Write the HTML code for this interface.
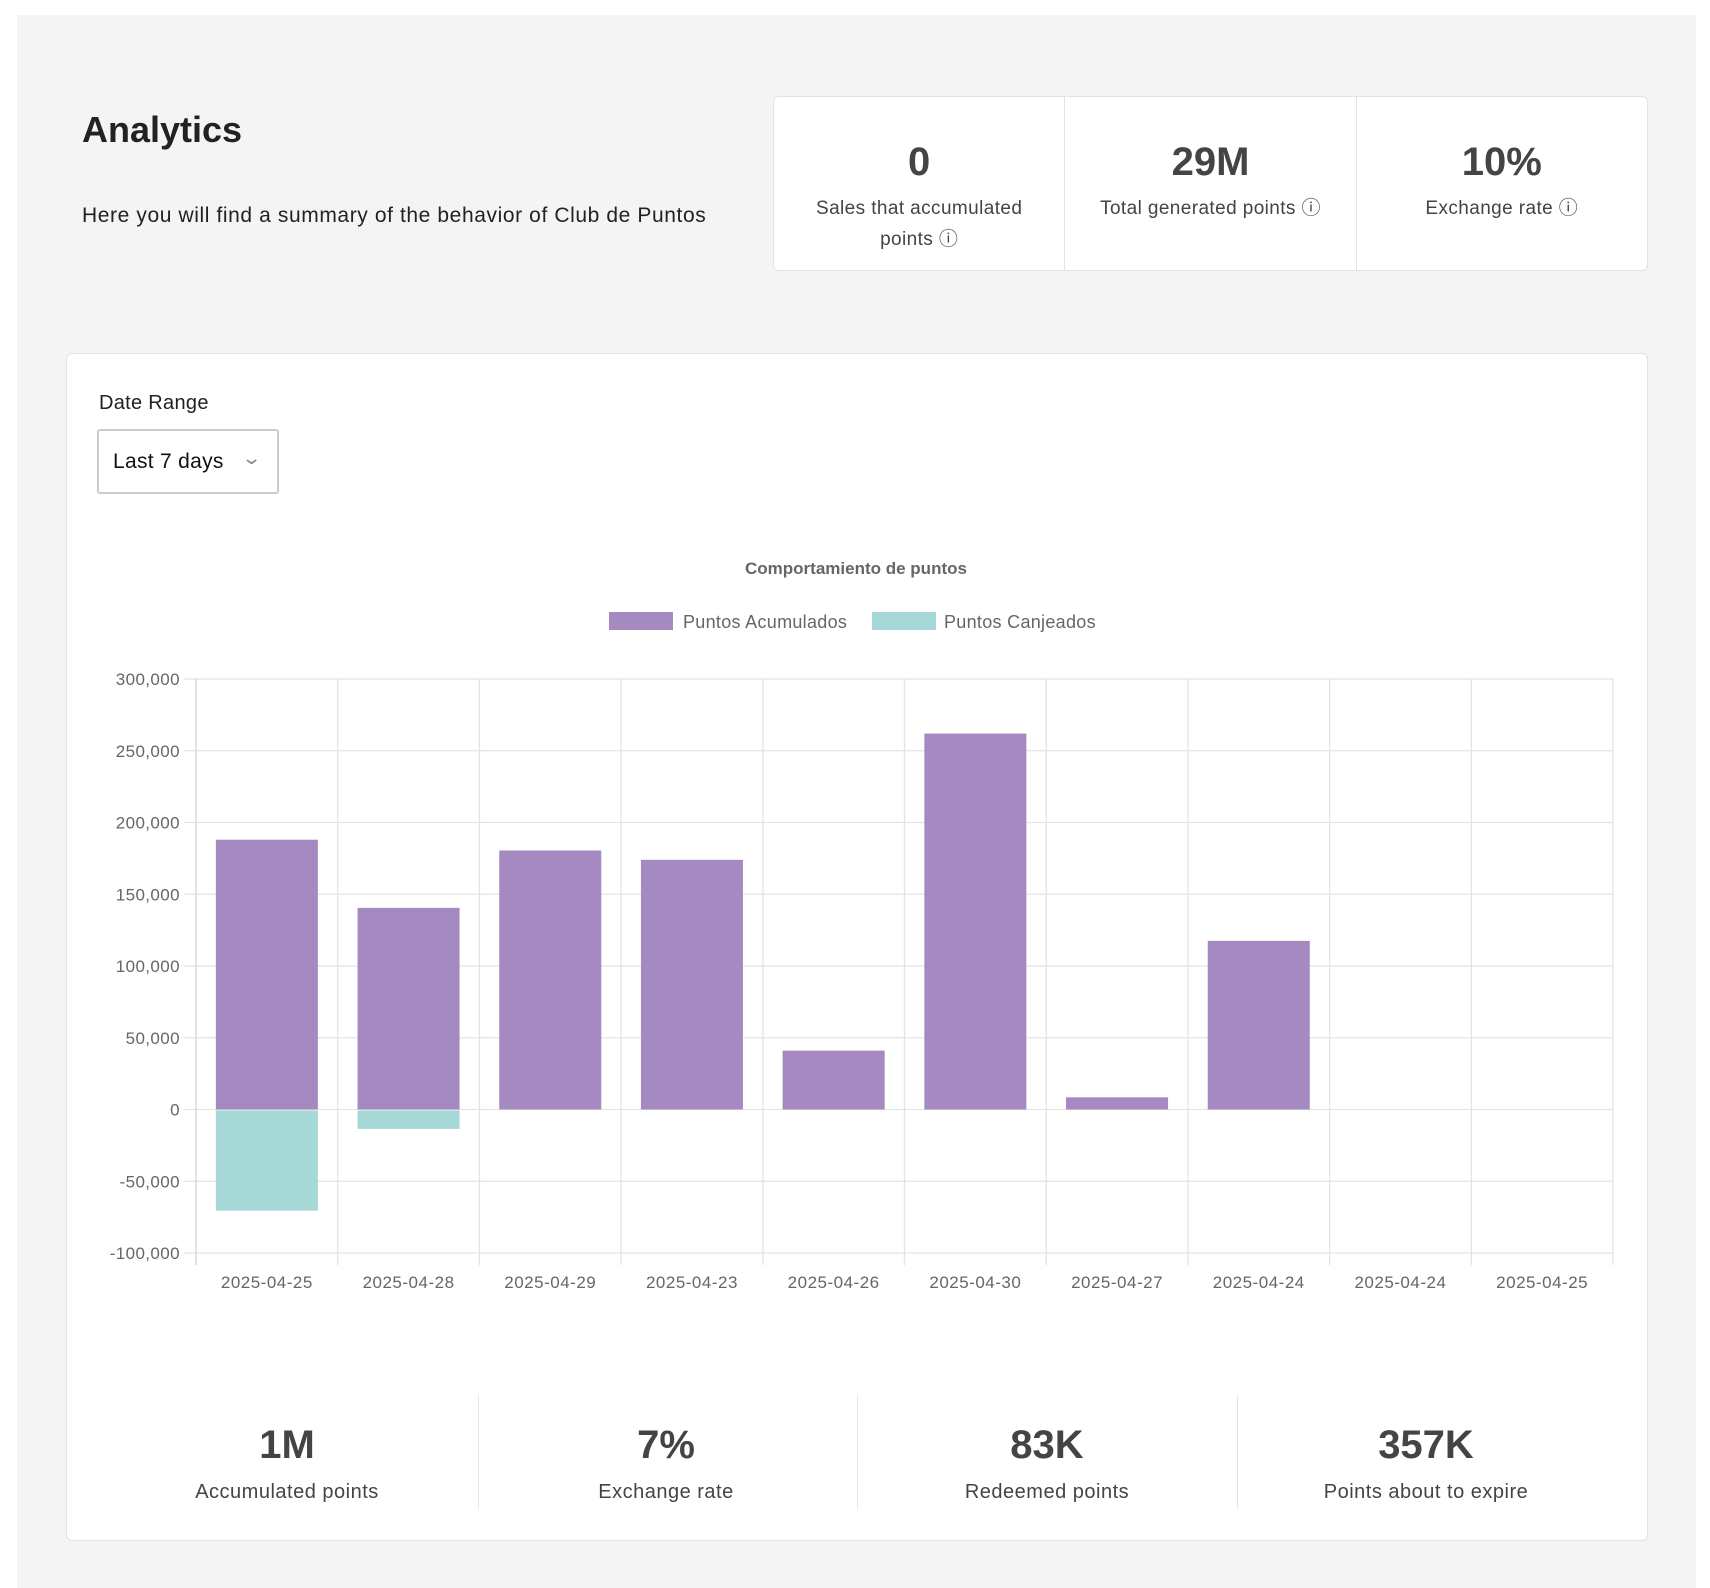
<!DOCTYPE html>
<html><head><meta charset="utf-8">
<style>
*{box-sizing:border-box;margin:0;padding:0}
body{width:1710px;height:1588px;background:#fff;font-family:"Liberation Sans",sans-serif;position:relative;overflow:hidden;color:#222}
.abs{position:absolute}
.bg{left:17px;top:15px;width:1679px;height:1573px;background:#f4f4f4}
.kpi{left:773px;top:96px;width:875px;height:175px;background:#fff;border:1px solid #e3e3e3;border-radius:6px;display:flex}
.kpi .cell{flex:1;text-align:center;border-right:1px solid #e3e3e3;padding-top:40px}
.kpi .cell:last-child{border-right:none}
.big{font-size:40px;font-weight:bold;color:#444;line-height:50px}
.lbl{font-size:19px;color:#444;line-height:31px;letter-spacing:0.4px}
.kpi .lbl{margin-top:6px}
.card{left:66px;top:353px;width:1582px;height:1188px;background:#fff;border:1px solid #e3e3e3;border-radius:6px}
.stat{position:absolute;text-align:center;width:340px}
.stat .big{font-size:40px}
.stat .lbl{font-size:20px;margin-top:7px;letter-spacing:0.5px}
.div{position:absolute;width:1px;background:#e3e3e3;top:1395px;height:114px}
</style></head><body>
<div class="abs bg"></div>
<div class="abs" style="left:82px;top:109px;font-size:36px;font-weight:bold;color:#222">Analytics</div>
<div class="abs" style="left:82px;top:204px;font-size:21px;letter-spacing:0.6px;color:#222">Here you will find a summary of the behavior of Club de Puntos</div>
<div class="abs kpi">
 <div class="cell"><div class="big">0</div><div class="lbl">Sales that accumulated<br>points ⓘ</div></div>
 <div class="cell"><div class="big">29M</div><div class="lbl">Total generated points ⓘ</div></div>
 <div class="cell"><div class="big">10%</div><div class="lbl">Exchange rate ⓘ</div></div>
</div>
<div class="abs card"></div>
<div class="abs" style="left:99px;top:392px;font-size:20px;letter-spacing:0.3px;color:#222">Date Range</div>
<div class="abs" style="left:97px;top:429px;width:182px;height:65px;border:2px solid #ccc;border-radius:3px;background:#fff">
 <span style="position:absolute;left:14px;top:19px;font-size:21px;color:#111;letter-spacing:0.3px">Last 7 days</span>
 <span style="position:absolute;left:145px;top:17px;font-size:18px;color:#888;transform:scaleX(1.4)">⌄</span>
</div>
<svg class="abs" style="left:0;top:0" width="1710" height="1588" id="chart">
 <text x="856" y="574" text-anchor="middle" font-size="17" font-weight="bold" fill="#666" font-family="Liberation Sans">Comportamiento de puntos</text>
 <rect x="609" y="612" width="64" height="18" fill="#a58ac2"/>
 <text x="683" y="628" font-size="18" fill="#666" font-family="Liberation Sans" letter-spacing="0.3">Puntos Acumulados</text>
 <rect x="872" y="612" width="64" height="18" fill="#a6d8d8"/>
 <text x="944" y="628" font-size="18" fill="#666" font-family="Liberation Sans" letter-spacing="0.3">Puntos Canjeados</text>
 <g id="grid"></g><g id="bars"></g><g id="labels"></g>
</svg>
<div class="stat" style="left:117px;top:1420px"><div class="big">1M</div><div class="lbl">Accumulated points</div></div>
<div class="stat" style="left:496px;top:1420px"><div class="big">7%</div><div class="lbl">Exchange rate</div></div>
<div class="stat" style="left:877px;top:1420px"><div class="big">83K</div><div class="lbl">Redeemed points</div></div>
<div class="stat" style="left:1256px;top:1420px"><div class="big">357K</div><div class="lbl">Points about to expire</div></div>
<div class="div" style="left:478px"></div><div class="div" style="left:857px"></div><div class="div" style="left:1237px"></div>
<script>
const categories=["2025-04-25","2025-04-28","2025-04-29","2025-04-23","2025-04-26","2025-04-30","2025-04-27","2025-04-24","2025-04-24","2025-04-25"];
const acumulados=[188000,140500,180500,174000,41000,262000,8500,117500,0,0];
const canjeados=[-70500,-13500,0,0,0,0,0,0,0,0];
const yTicks=[300000,250000,200000,150000,100000,50000,0,-50000,-100000];
const yMin=-100000,yMax=300000;
const L=196,R=1613,T=679,B=1253;
const NS="http://www.w3.org/2000/svg";
function y(v){return B-(v-yMin)/(yMax-yMin)*(B-T);}
const cw=(R-L)/categories.length;
function x(i){return L+i*cw;}
function mk(tag,attrs,parent){const e=document.createElementNS(NS,tag);for(const k in attrs)e.setAttribute(k,attrs[k]);document.getElementById(parent).appendChild(e);return e;}
yTicks.forEach((t,i)=>{
 const l=mk('line',{x1:L-12,x2:R,y1:y(t),y2:y(t),stroke:'#e4e4e4','stroke-width':1.3},'grid');
 
 
 const tx=mk('text',{x:L-16,y:y(t)+6,'text-anchor':'end','font-size':17,fill:'#666','font-family':'Liberation Sans','letter-spacing':0.4},'labels');
 tx.textContent=t.toLocaleString('en-US');
 
 
});
for(let i=0;i<=categories.length;i++){
 const l=mk('line',{x1:x(i),x2:x(i),y1:T,y2:B+12,stroke:i==0?'#d4d4d4':'#e4e4e4','stroke-width':1.3},'grid');
 
 
}
categories.forEach((c,i)=>{
 const bw=cw*0.72,bx=x(i)+(cw-bw)/2;
 if(acumulados[i]){
  const r=mk('rect',{x:bx,y:y(acumulados[i]),width:bw,height:y(0)-y(acumulados[i]),fill:'#a58ac2'},'bars');
  
  
 }
 if(canjeados[i]){
  const r=mk('rect',{x:bx,y:y(0)+1,width:bw,height:y(canjeados[i])-y(0)-1,fill:'#a6d8d8'},'bars');
  
  
 }
 const tx=mk('text',{x:x(i)+cw/2,y:B+35,'text-anchor':'middle','font-size':17,fill:'#666','font-family':'Liberation Sans','letter-spacing':0.5},'labels');
 tx.textContent=c;
 
 
});
</script>
</body></html>
